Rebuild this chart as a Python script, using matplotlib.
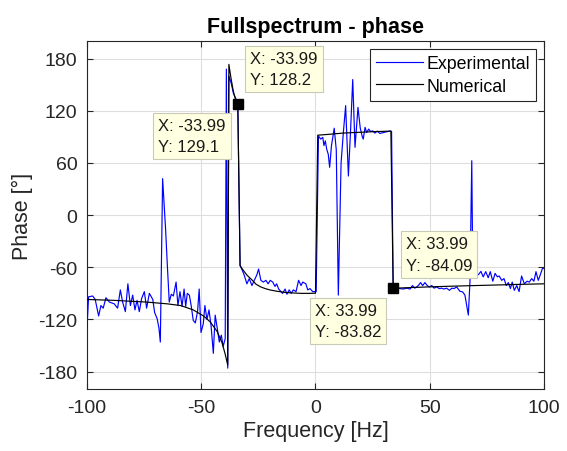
import matplotlib
matplotlib.use("Agg")
import matplotlib.pyplot as plt

plt.rcParams['font.family'] = ['Liberation Sans', 'DejaVu Sans']
plt.rcParams['axes.unicode_minus'] = False

# Experimental phase
exp_freq = [-100.0, -99.3, -97.5, -96.4, -94.9, -93.9, -92.9, -91.7, -90.2, -88.1,
            -86.6, -85.4, -84.4, -83.2, -82.1, -81.0, -80.0, -79.0, -78.1, -77.1,
            -76.1, -74.9, -73.9, -72.7, -71.2, -70.4, -69.3, -68.5, -67.9, -66.9,
            -65.6, -64.9, -64.0, -63.1, -62.2, -61.0, -60.2, -59.3, -58.4, -57.5,
            -56.8, -56.1, -55.2, -54.4, -53.5, -52.6, -51.6, -50.9, -50.1, -49.1,
            -48.4, -47.5, -46.6, -45.7, -44.7, -43.9, -43.0, -42.1, -41.2, -40.4,
            -39.5, -39.0, -38.4, -37.9, -36.9, -35.9, -34.0, -33.0, -32.1, -31.2,
            -30.0, -29.0, -27.8, -26.8, -25.7, -24.9, -23.9, -22.8, -21.7, -20.7,
            -19.8, -18.7, -17.7, -17.0, -16.1, -15.1, -14.4, -13.3, -12.5, -11.5,
            -10.6, -9.7, -8.5, -7.4, -6.3, -5.6, -4.2, -3.4, -2.4, -1.2,
            -0.1, 0.3, 1.3, 2.3, 3.2, 3.7, 4.3, 4.9, 5.6, 6.2,
            7.0, 8.2, 9.1, 10.0, 11.2, 12.2, 13.2, 14.4, 15.4, 16.3,
            17.3, 18.6, 19.6, 20.4, 20.9, 21.7, 22.4, 23.3, 24.2, 25.0,
            26.0, 27.0, 28.2, 29.7, 31.2, 32.6, 33.3, 34.0, 35.0, 36.0,
            37.0, 38.4, 39.9, 41.4, 42.4, 43.5, 45.0, 46.0, 46.9, 47.9,
            48.9, 49.8, 50.9, 51.9, 53.0, 54.2, 55.2, 56.2, 57.4, 58.6,
            59.7, 60.6, 61.8, 63.2, 64.4, 65.4, 66.9, 67.6, 68.4, 68.8,
            69.8, 71.3, 72.4, 73.4, 74.5, 75.6, 76.5, 77.6, 78.6, 79.6,
            80.4, 81.5, 82.5, 83.5, 84.4, 85.3, 86.1, 87.0, 88.1, 89.1,
            90.2, 91.4, 92.6, 93.6, 94.6, 95.6, 96.5, 97.5, 98.4, 99.3,
            100.0]
exp_phase = [-130, -94, -93, -97, -116, -104, -107, -95, -100, -102,
             -107, -86, -100, -111, -79, -104, -92, -109, -98, -111,
             -96, -88, -107, -90, -97, -112, -119, -130, -146, 42,
             -16, -54, -100, -91, -93, -77, -104, -88, -105, -85,
             -105, -90, -92, -104, -121, -124, -111, -85, -135, -125,
             -104, -120, -109, -127, -159, -115, -130, -146, -138, -151,
             -142, 168, -176, 160, 152, 140, 129.1, -58, -63, -69,
             -79, -73, -81, -75, -69, -62, -75, -77, -75, -79,
             -75, -77, -82, -79, -85, -88, -90, -85, -91, -86,
             -90, -86, -88, -75, -81, -77, -79, -86, -84.5, -88,
             -88, -88, 91, 87.5, 89.5, 80, 85.5, 76, 70, 55,
             80, 100, 75, -92, 60, 95, 126, 45, 100, 156,
             78, 124, 100, 91, 87.5, 101, 95, 99, 96, 97,
             94.4, 96.7, 94, 95, 96, 96.7, 96.3, -83.8, -85, -84,
             -84.5, -85, -84, -85, -81, -84, -81, -77.6, -81, -77.6,
             -81, -82.6, -81, -84, -82.6, -84.5, -84, -85, -84, -86.5,
             -84, -84.5, -82.6, -87.6, -88.3, -92, -115, -77, 62.6, -54,
             -69, -68.5, -64.7, -71, -65, -72, -65, -76, -67, -71,
             -70, -75, -73, -81, -77.6, -84.5, -77, -86.5, -81, -88,
             -70, -79, -76, -77, -73, -76, -65, -75, -68.5, -61.6,
             -61]

# Numerical phase
num_freq = [-100, -88.5, -74, -65, -59, -53.5, -49, -46, -43, -41, -39.6, -38.4,
            -37.9, -37, -36, -35, -34, -33, -32, -30, -28, -26, -24, -22, -20,
            -17, -13, -10, -6, -3, 0, 1, 5, 12, 24, 33, 34, 40, 50, 60, 70, 80,
            90, 100]
num_phase = [-97, -98, -100, -102, -104, -109, -116, -123, -134, -146, -159, -172.5,
             173.5, 158, 143, 133, 128.2, -58, -62, -69, -74, -79.5, -82.5, -84.5, -86,
             -87.5, -89, -89.5, -90, -90, -89.8, 92, 92.8, 94.4, 95.9, 96.7, -84.09,
             -83.5, -82.5, -81.7, -81, -80.3, -79.6, -79]

# Data tips: marker positions and label positions
tip_x = [-33.99, 33.99]
tip_y = [128.2, -84.09]
label_texts = ["X: -33.99\nY: 129.1", "X: -33.99\nY: 128.2",
               "X: 33.99\nY: -83.82", "X: 33.99\nY: -84.09"]
label_x = [-54, -13.7, 14.2, 54]
label_y = [91, 168, -122, -45]

fig = plt.figure(figsize=(5.67, 4.52), dpi=100)
ax = fig.add_axes([0.1534, 0.1372, 0.8060, 0.7692])

axcol = '#262626'
ax.plot(exp_freq, exp_phase, color='#0000ff', lw=0.85, label='Experimental', zorder=3)
ax.plot(num_freq, num_phase, color='black', lw=0.85, label='Numerical', zorder=4)
ax.plot(tip_x, tip_y, 's', color='black', ms=6.5, zorder=6)

for t, x, y in zip(label_texts, label_x, label_y):
    ax.text(x, y, t, ha='center', va='center', multialignment='left',
            fontsize=12, color='#1a1a1a', linespacing=1.55, zorder=7,
            bbox=dict(boxstyle='square,pad=0.3', facecolor='#ffffe1',
                      edgecolor='#c9c9b8', linewidth=0.8))

ax.set_xlim(-100, 100)
ax.set_ylim(-200, 200)
ax.set_xticks([-100, -50, 0, 50, 100])
ax.set_yticks([-180, -120, -60, 0, 60, 120, 180])
ax.grid(True, color='#dedede', lw=0.8)
ax.set_axisbelow(True)
ax.tick_params(direction='in', length=4, width=0.8, colors=axcol, labelsize=14,
               top=True, right=True, pad=7)
for s in ax.spines.values():
    s.set_color(axcol)
    s.set_linewidth(0.8)

ax.set_xlabel('Frequency [Hz]', fontsize=15.5, color=axcol, labelpad=3)
ax.set_ylabel('Phase [°]', fontsize=15.5, color=axcol, labelpad=4)
ax.set_title('Fullspectrum - phase', fontsize=15.5, fontweight='bold', pad=7)

leg = ax.legend(loc='upper right', bbox_to_anchor=(0.9825, 0.978), borderaxespad=0,
                fontsize=12.8, fancybox=False, framealpha=1, edgecolor=axcol,
                handlelength=2.6, handletextpad=0.2, borderpad=0.35, labelspacing=0.3)
leg.get_frame().set_linewidth(0.8)
leg.set_zorder(8)

fig.savefig('out.png', dpi=100)
